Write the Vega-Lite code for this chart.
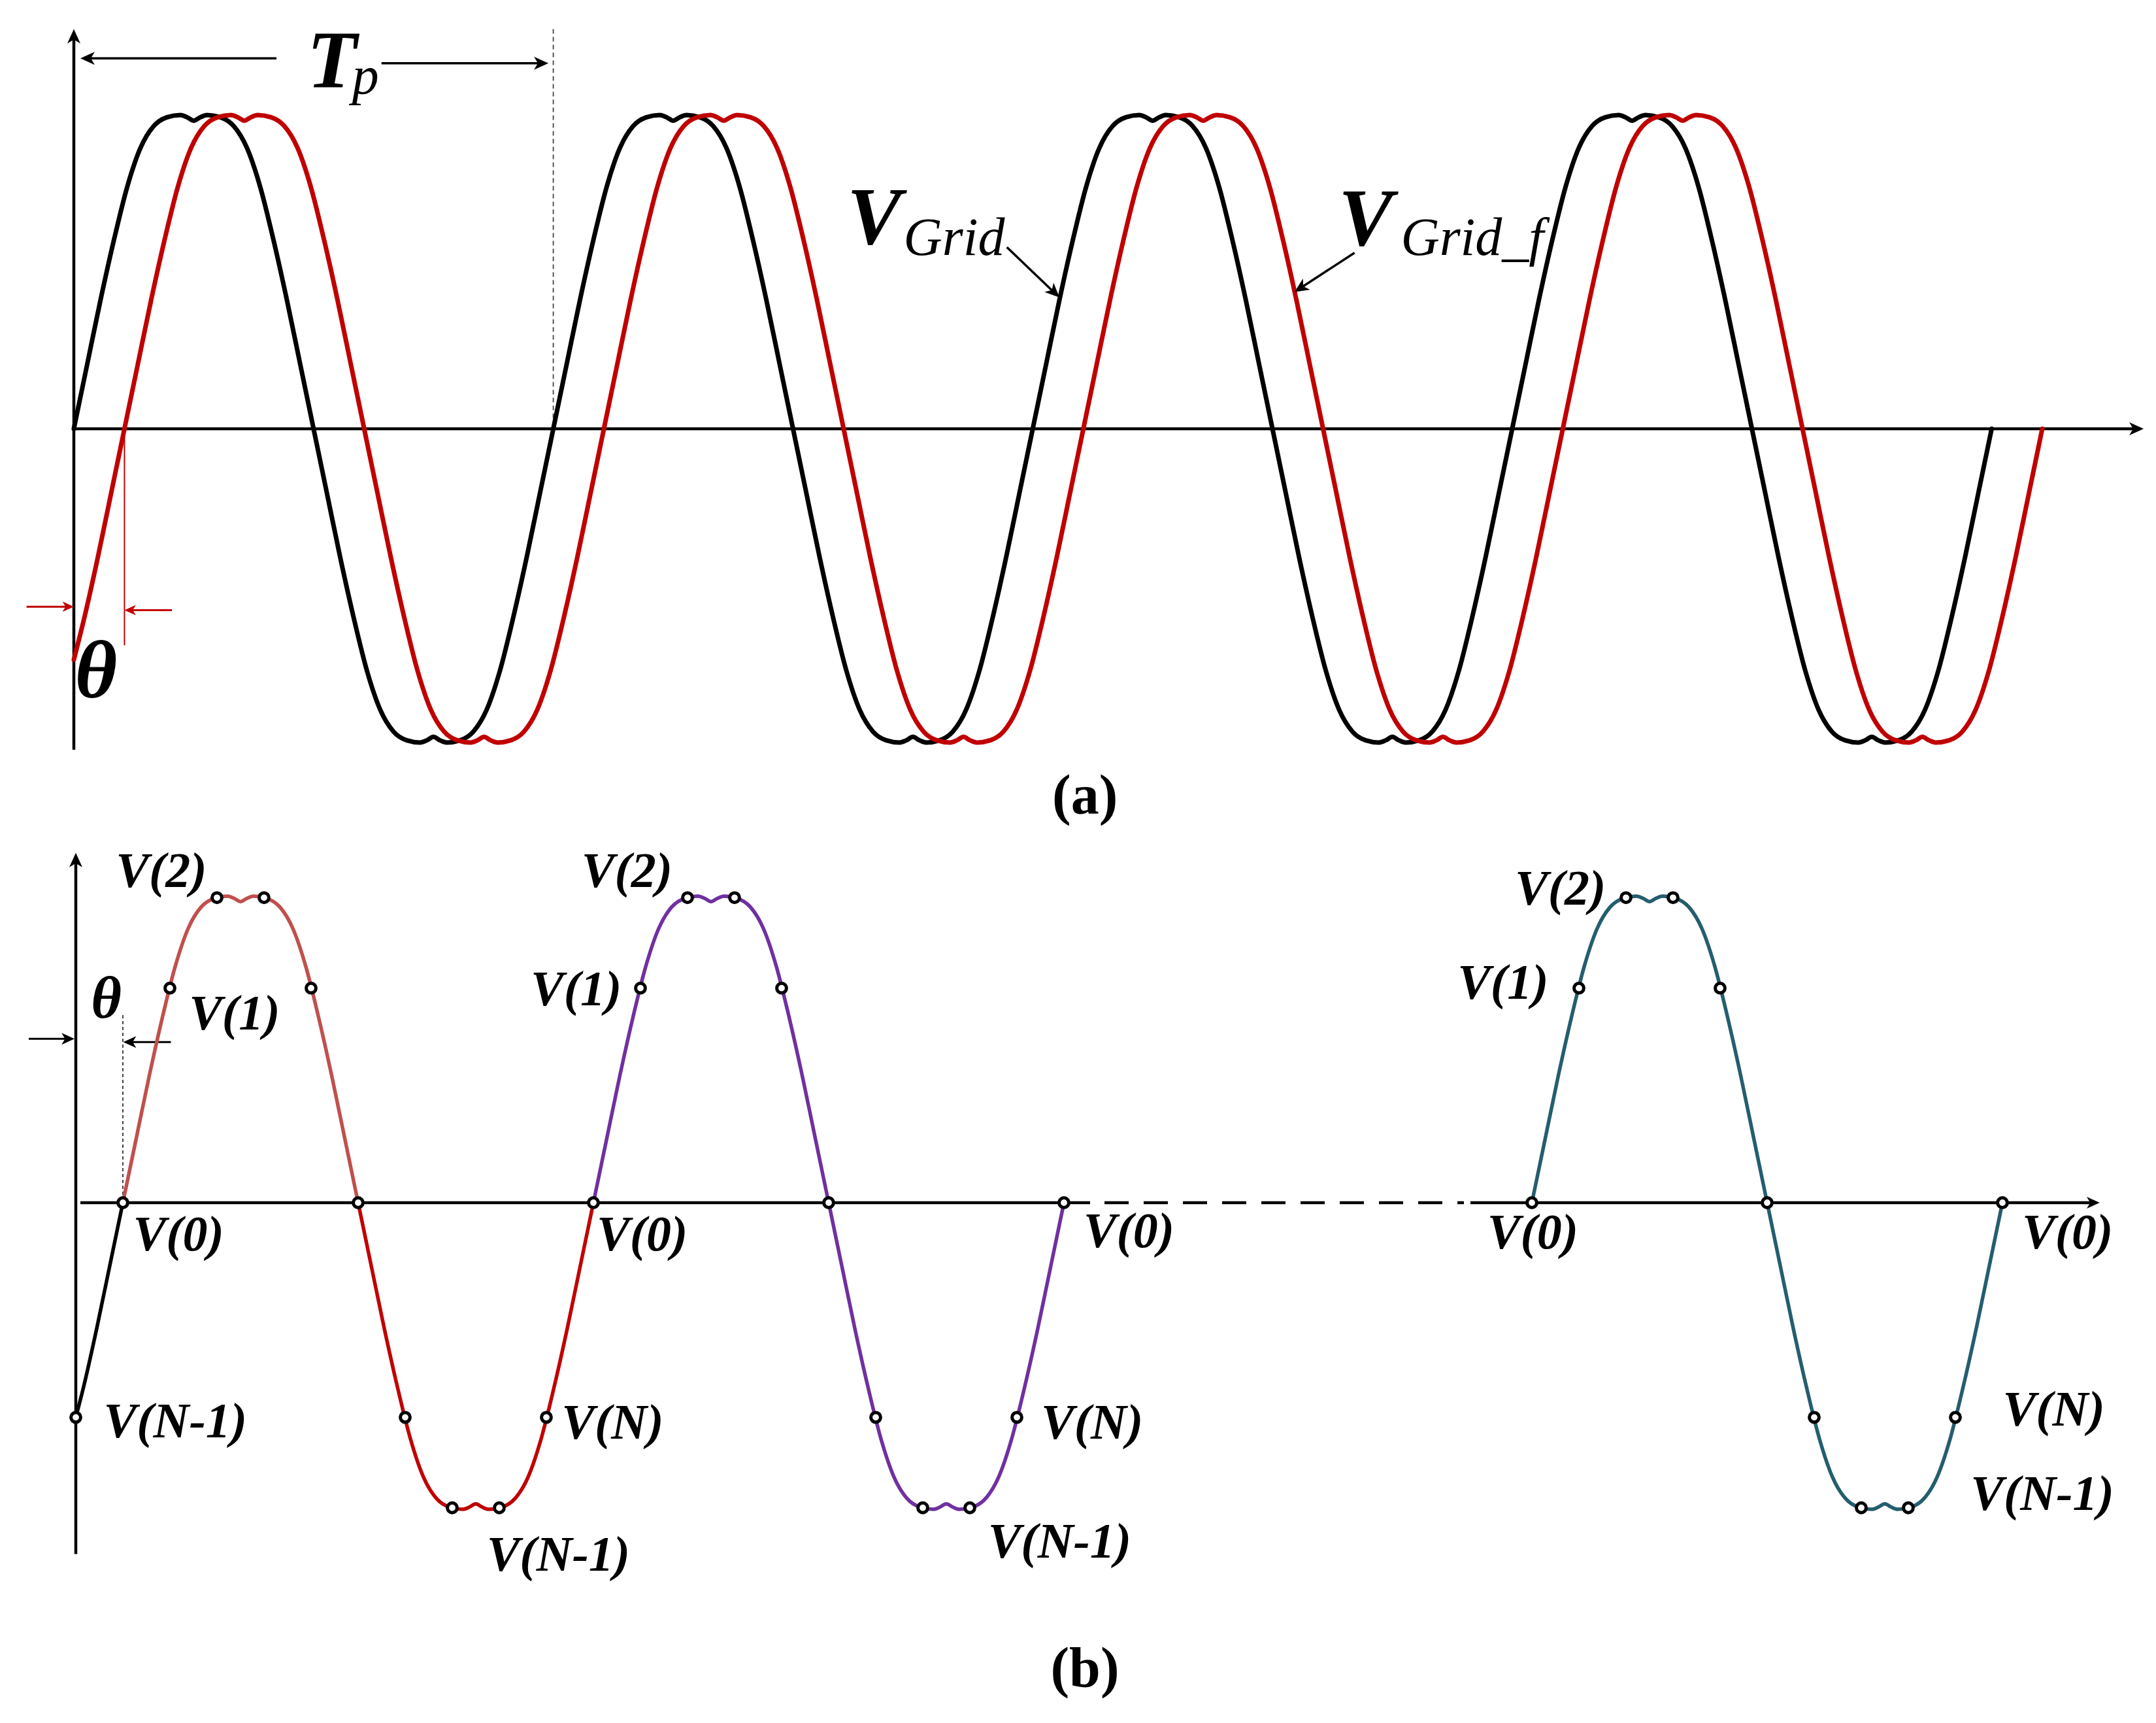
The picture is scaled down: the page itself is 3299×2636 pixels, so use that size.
{
"$schema":"https://vega.github.io/schema/vega-lite/v6.json",
"padding":0,
"spacing":0,
"background":"white",
"config":{"view":{"stroke":null},"concat":{"spacing":0}},
"resolve":{"scale":{"color":"independent"}},
"datasets":{
"wa":[
{"s":"g","t":0,"v":0},{"s":"g","t":10,"v":0.205},{"s":"g","t":20,"v":0.41},{"s":"g","t":30,"v":0.6},{"s":"g","t":40,"v":0.77},{"s":"g","t":50,"v":0.895},{"s":"g","t":60,"v":0.965},{"s":"g","t":70,"v":0.993},{"s":"g","t":80,"v":1},{"s":"g","t":85,"v":0.993},{"s":"g","t":90,"v":0.982},{"s":"g","t":95,"v":0.993},{"s":"g","t":100,"v":1},{"s":"g","t":110,"v":0.993},{"s":"g","t":120,"v":0.965},{"s":"g","t":130,"v":0.895},{"s":"g","t":140,"v":0.77},{"s":"g","t":150,"v":0.6},{"s":"g","t":160,"v":0.41},{"s":"g","t":170,"v":0.205},
{"s":"g","t":180,"v":0},{"s":"g","t":190,"v":-0.205},{"s":"g","t":200,"v":-0.41},{"s":"g","t":210,"v":-0.6},{"s":"g","t":220,"v":-0.77},{"s":"g","t":230,"v":-0.895},{"s":"g","t":240,"v":-0.965},{"s":"g","t":250,"v":-0.993},{"s":"g","t":260,"v":-1},{"s":"g","t":265,"v":-0.993},{"s":"g","t":270,"v":-0.982},{"s":"g","t":275,"v":-0.993},{"s":"g","t":280,"v":-1},{"s":"g","t":290,"v":-0.993},{"s":"g","t":300,"v":-0.965},{"s":"g","t":310,"v":-0.895},{"s":"g","t":320,"v":-0.77},{"s":"g","t":330,"v":-0.6},{"s":"g","t":340,"v":-0.41},{"s":"g","t":350,"v":-0.205},
{"s":"g","t":360,"v":0},{"s":"g","t":370,"v":0.205},{"s":"g","t":380,"v":0.41},{"s":"g","t":390,"v":0.6},{"s":"g","t":400,"v":0.77},{"s":"g","t":410,"v":0.895},{"s":"g","t":420,"v":0.965},{"s":"g","t":430,"v":0.993},{"s":"g","t":440,"v":1},{"s":"g","t":445,"v":0.993},{"s":"g","t":450,"v":0.982},{"s":"g","t":455,"v":0.993},{"s":"g","t":460,"v":1},{"s":"g","t":470,"v":0.993},{"s":"g","t":480,"v":0.965},{"s":"g","t":490,"v":0.895},{"s":"g","t":500,"v":0.77},{"s":"g","t":510,"v":0.6},{"s":"g","t":520,"v":0.41},{"s":"g","t":530,"v":0.205},
{"s":"g","t":540,"v":0},{"s":"g","t":550,"v":-0.205},{"s":"g","t":560,"v":-0.41},{"s":"g","t":570,"v":-0.6},{"s":"g","t":580,"v":-0.77},{"s":"g","t":590,"v":-0.895},{"s":"g","t":600,"v":-0.965},{"s":"g","t":610,"v":-0.993},{"s":"g","t":620,"v":-1},{"s":"g","t":625,"v":-0.993},{"s":"g","t":630,"v":-0.982},{"s":"g","t":635,"v":-0.993},{"s":"g","t":640,"v":-1},{"s":"g","t":650,"v":-0.993},{"s":"g","t":660,"v":-0.965},{"s":"g","t":670,"v":-0.895},{"s":"g","t":680,"v":-0.77},{"s":"g","t":690,"v":-0.6},{"s":"g","t":700,"v":-0.41},{"s":"g","t":710,"v":-0.205},
{"s":"g","t":720,"v":0},{"s":"g","t":730,"v":0.205},{"s":"g","t":740,"v":0.41},{"s":"g","t":750,"v":0.6},{"s":"g","t":760,"v":0.77},{"s":"g","t":770,"v":0.895},{"s":"g","t":780,"v":0.965},{"s":"g","t":790,"v":0.993},{"s":"g","t":800,"v":1},{"s":"g","t":805,"v":0.993},{"s":"g","t":810,"v":0.982},{"s":"g","t":815,"v":0.993},{"s":"g","t":820,"v":1},{"s":"g","t":830,"v":0.993},{"s":"g","t":840,"v":0.965},{"s":"g","t":850,"v":0.895},{"s":"g","t":860,"v":0.77},{"s":"g","t":870,"v":0.6},{"s":"g","t":880,"v":0.41},{"s":"g","t":890,"v":0.205},
{"s":"g","t":900,"v":0},{"s":"g","t":910,"v":-0.205},{"s":"g","t":920,"v":-0.41},{"s":"g","t":930,"v":-0.6},{"s":"g","t":940,"v":-0.77},{"s":"g","t":950,"v":-0.895},{"s":"g","t":960,"v":-0.965},{"s":"g","t":970,"v":-0.993},{"s":"g","t":980,"v":-1},{"s":"g","t":985,"v":-0.993},{"s":"g","t":990,"v":-0.982},{"s":"g","t":995,"v":-0.993},{"s":"g","t":1000,"v":-1},{"s":"g","t":1010,"v":-0.993},{"s":"g","t":1020,"v":-0.965},{"s":"g","t":1030,"v":-0.895},{"s":"g","t":1040,"v":-0.77},{"s":"g","t":1050,"v":-0.6},{"s":"g","t":1060,"v":-0.41},{"s":"g","t":1070,"v":-0.205},
{"s":"g","t":1080,"v":0},{"s":"g","t":1090,"v":0.205},{"s":"g","t":1100,"v":0.41},{"s":"g","t":1110,"v":0.6},{"s":"g","t":1120,"v":0.77},{"s":"g","t":1130,"v":0.895},{"s":"g","t":1140,"v":0.965},{"s":"g","t":1150,"v":0.993},{"s":"g","t":1160,"v":1},{"s":"g","t":1165,"v":0.993},{"s":"g","t":1170,"v":0.982},{"s":"g","t":1175,"v":0.993},{"s":"g","t":1180,"v":1},{"s":"g","t":1190,"v":0.993},{"s":"g","t":1200,"v":0.965},{"s":"g","t":1210,"v":0.895},{"s":"g","t":1220,"v":0.77},{"s":"g","t":1230,"v":0.6},{"s":"g","t":1240,"v":0.41},{"s":"g","t":1250,"v":0.205},
{"s":"g","t":1260,"v":0},{"s":"g","t":1270,"v":-0.205},{"s":"g","t":1280,"v":-0.41},{"s":"g","t":1290,"v":-0.6},{"s":"g","t":1300,"v":-0.77},{"s":"g","t":1310,"v":-0.895},{"s":"g","t":1320,"v":-0.965},{"s":"g","t":1330,"v":-0.993},{"s":"g","t":1340,"v":-1},{"s":"g","t":1345,"v":-0.993},{"s":"g","t":1350,"v":-0.982},{"s":"g","t":1355,"v":-0.993},{"s":"g","t":1360,"v":-1},{"s":"g","t":1370,"v":-0.993},{"s":"g","t":1380,"v":-0.965},{"s":"g","t":1390,"v":-0.895},{"s":"g","t":1400,"v":-0.77},{"s":"g","t":1410,"v":-0.6},{"s":"g","t":1420,"v":-0.41},{"s":"g","t":1430,"v":-0.205},
{"s":"g","t":1440,"v":0},
{"s":"f","t":0,"v":-0.736},{"s":"f","t":8,"v":-0.6},{"s":"f","t":18,"v":-0.41},{"s":"f","t":28,"v":-0.205},
{"s":"f","t":38,"v":0},{"s":"f","t":48,"v":0.205},{"s":"f","t":58,"v":0.41},{"s":"f","t":68,"v":0.6},{"s":"f","t":78,"v":0.77},{"s":"f","t":88,"v":0.895},{"s":"f","t":98,"v":0.965},{"s":"f","t":108,"v":0.993},{"s":"f","t":118,"v":1},{"s":"f","t":123,"v":0.993},{"s":"f","t":128,"v":0.982},{"s":"f","t":133,"v":0.993},{"s":"f","t":138,"v":1},{"s":"f","t":148,"v":0.993},{"s":"f","t":158,"v":0.965},{"s":"f","t":168,"v":0.895},{"s":"f","t":178,"v":0.77},{"s":"f","t":188,"v":0.6},{"s":"f","t":198,"v":0.41},{"s":"f","t":208,"v":0.205},
{"s":"f","t":218,"v":0},{"s":"f","t":228,"v":-0.205},{"s":"f","t":238,"v":-0.41},{"s":"f","t":248,"v":-0.6},{"s":"f","t":258,"v":-0.77},{"s":"f","t":268,"v":-0.895},{"s":"f","t":278,"v":-0.965},{"s":"f","t":288,"v":-0.993},{"s":"f","t":298,"v":-1},{"s":"f","t":303,"v":-0.993},{"s":"f","t":308,"v":-0.982},{"s":"f","t":313,"v":-0.993},{"s":"f","t":318,"v":-1},{"s":"f","t":328,"v":-0.993},{"s":"f","t":338,"v":-0.965},{"s":"f","t":348,"v":-0.895},{"s":"f","t":358,"v":-0.77},{"s":"f","t":368,"v":-0.6},{"s":"f","t":378,"v":-0.41},{"s":"f","t":388,"v":-0.205},
{"s":"f","t":398,"v":0},{"s":"f","t":408,"v":0.205},{"s":"f","t":418,"v":0.41},{"s":"f","t":428,"v":0.6},{"s":"f","t":438,"v":0.77},{"s":"f","t":448,"v":0.895},{"s":"f","t":458,"v":0.965},{"s":"f","t":468,"v":0.993},{"s":"f","t":478,"v":1},{"s":"f","t":483,"v":0.993},{"s":"f","t":488,"v":0.982},{"s":"f","t":493,"v":0.993},{"s":"f","t":498,"v":1},{"s":"f","t":508,"v":0.993},{"s":"f","t":518,"v":0.965},{"s":"f","t":528,"v":0.895},{"s":"f","t":538,"v":0.77},{"s":"f","t":548,"v":0.6},{"s":"f","t":558,"v":0.41},{"s":"f","t":568,"v":0.205},
{"s":"f","t":578,"v":0},{"s":"f","t":588,"v":-0.205},{"s":"f","t":598,"v":-0.41},{"s":"f","t":608,"v":-0.6},{"s":"f","t":618,"v":-0.77},{"s":"f","t":628,"v":-0.895},{"s":"f","t":638,"v":-0.965},{"s":"f","t":648,"v":-0.993},{"s":"f","t":658,"v":-1},{"s":"f","t":663,"v":-0.993},{"s":"f","t":668,"v":-0.982},{"s":"f","t":673,"v":-0.993},{"s":"f","t":678,"v":-1},{"s":"f","t":688,"v":-0.993},{"s":"f","t":698,"v":-0.965},{"s":"f","t":708,"v":-0.895},{"s":"f","t":718,"v":-0.77},{"s":"f","t":728,"v":-0.6},{"s":"f","t":738,"v":-0.41},{"s":"f","t":748,"v":-0.205},
{"s":"f","t":758,"v":0},{"s":"f","t":768,"v":0.205},{"s":"f","t":778,"v":0.41},{"s":"f","t":788,"v":0.6},{"s":"f","t":798,"v":0.77},{"s":"f","t":808,"v":0.895},{"s":"f","t":818,"v":0.965},{"s":"f","t":828,"v":0.993},{"s":"f","t":838,"v":1},{"s":"f","t":843,"v":0.993},{"s":"f","t":848,"v":0.982},{"s":"f","t":853,"v":0.993},{"s":"f","t":858,"v":1},{"s":"f","t":868,"v":0.993},{"s":"f","t":878,"v":0.965},{"s":"f","t":888,"v":0.895},{"s":"f","t":898,"v":0.77},{"s":"f","t":908,"v":0.6},{"s":"f","t":918,"v":0.41},{"s":"f","t":928,"v":0.205},
{"s":"f","t":938,"v":0},{"s":"f","t":948,"v":-0.205},{"s":"f","t":958,"v":-0.41},{"s":"f","t":968,"v":-0.6},{"s":"f","t":978,"v":-0.77},{"s":"f","t":988,"v":-0.895},{"s":"f","t":998,"v":-0.965},{"s":"f","t":1008,"v":-0.993},{"s":"f","t":1018,"v":-1},{"s":"f","t":1023,"v":-0.993},{"s":"f","t":1028,"v":-0.982},{"s":"f","t":1033,"v":-0.993},{"s":"f","t":1038,"v":-1},{"s":"f","t":1048,"v":-0.993},{"s":"f","t":1058,"v":-0.965},{"s":"f","t":1068,"v":-0.895},{"s":"f","t":1078,"v":-0.77},{"s":"f","t":1088,"v":-0.6},{"s":"f","t":1098,"v":-0.41},{"s":"f","t":1108,"v":-0.205},
{"s":"f","t":1118,"v":0},{"s":"f","t":1128,"v":0.205},{"s":"f","t":1138,"v":0.41},{"s":"f","t":1148,"v":0.6},{"s":"f","t":1158,"v":0.77},{"s":"f","t":1168,"v":0.895},{"s":"f","t":1178,"v":0.965},{"s":"f","t":1188,"v":0.993},{"s":"f","t":1198,"v":1},{"s":"f","t":1203,"v":0.993},{"s":"f","t":1208,"v":0.982},{"s":"f","t":1213,"v":0.993},{"s":"f","t":1218,"v":1},{"s":"f","t":1228,"v":0.993},{"s":"f","t":1238,"v":0.965},{"s":"f","t":1248,"v":0.895},{"s":"f","t":1258,"v":0.77},{"s":"f","t":1268,"v":0.6},{"s":"f","t":1278,"v":0.41},{"s":"f","t":1288,"v":0.205},
{"s":"f","t":1298,"v":0},{"s":"f","t":1308,"v":-0.205},{"s":"f","t":1318,"v":-0.41},{"s":"f","t":1328,"v":-0.6},{"s":"f","t":1338,"v":-0.77},{"s":"f","t":1348,"v":-0.895},{"s":"f","t":1358,"v":-0.965},{"s":"f","t":1368,"v":-0.993},{"s":"f","t":1378,"v":-1},{"s":"f","t":1383,"v":-0.993},{"s":"f","t":1388,"v":-0.982},{"s":"f","t":1393,"v":-0.993},{"s":"f","t":1398,"v":-1},{"s":"f","t":1408,"v":-0.993},{"s":"f","t":1418,"v":-0.965},{"s":"f","t":1428,"v":-0.895},{"s":"f","t":1438,"v":-0.77},{"s":"f","t":1448,"v":-0.6},{"s":"f","t":1458,"v":-0.41},{"s":"f","t":1468,"v":-0.205},
{"s":"f","t":1478,"v":0}
],
"wb":[
{"s":"k","t":0,"v":-0.7},{"s":"k","t":6,"v":-0.6},{"s":"k","t":16,"v":-0.41},{"s":"k","t":26,"v":-0.205},{"s":"k","t":36,"v":0},
{"s":"a","t":36,"v":0},{"s":"a","t":46,"v":0.205},{"s":"a","t":56,"v":0.41},{"s":"a","t":66,"v":0.6},{"s":"a","t":76,"v":0.77},{"s":"a","t":86,"v":0.895},{"s":"a","t":96,"v":0.965},{"s":"a","t":106,"v":0.993},{"s":"a","t":116,"v":1},{"s":"a","t":121,"v":0.993},{"s":"a","t":126,"v":0.982},{"s":"a","t":131,"v":0.993},{"s":"a","t":136,"v":1},{"s":"a","t":146,"v":0.993},{"s":"a","t":156,"v":0.965},{"s":"a","t":166,"v":0.895},{"s":"a","t":176,"v":0.77},{"s":"a","t":186,"v":0.6},{"s":"a","t":196,"v":0.41},{"s":"a","t":206,"v":0.205},{"s":"a","t":216,"v":0},
{"s":"r","t":216,"v":0},{"s":"r","t":226,"v":-0.205},{"s":"r","t":236,"v":-0.41},{"s":"r","t":246,"v":-0.6},{"s":"r","t":256,"v":-0.77},{"s":"r","t":266,"v":-0.895},{"s":"r","t":276,"v":-0.965},{"s":"r","t":286,"v":-0.993},{"s":"r","t":296,"v":-1},{"s":"r","t":301,"v":-0.993},{"s":"r","t":306,"v":-0.982},{"s":"r","t":311,"v":-0.993},{"s":"r","t":316,"v":-1},{"s":"r","t":326,"v":-0.993},{"s":"r","t":336,"v":-0.965},{"s":"r","t":346,"v":-0.895},{"s":"r","t":356,"v":-0.77},{"s":"r","t":366,"v":-0.6},{"s":"r","t":376,"v":-0.41},{"s":"r","t":386,"v":-0.205},{"s":"r","t":396,"v":0},
{"s":"p","t":396,"v":0},{"s":"p","t":406,"v":0.205},{"s":"p","t":416,"v":0.41},{"s":"p","t":426,"v":0.6},{"s":"p","t":436,"v":0.77},{"s":"p","t":446,"v":0.895},{"s":"p","t":456,"v":0.965},{"s":"p","t":466,"v":0.993},{"s":"p","t":476,"v":1},{"s":"p","t":481,"v":0.993},{"s":"p","t":486,"v":0.982},{"s":"p","t":491,"v":0.993},{"s":"p","t":496,"v":1},{"s":"p","t":506,"v":0.993},{"s":"p","t":516,"v":0.965},{"s":"p","t":526,"v":0.895},{"s":"p","t":536,"v":0.77},{"s":"p","t":546,"v":0.6},{"s":"p","t":556,"v":0.41},{"s":"p","t":566,"v":0.205},{"s":"p","t":576,"v":0},
{"s":"p","t":586,"v":-0.205},{"s":"p","t":596,"v":-0.41},{"s":"p","t":606,"v":-0.6},{"s":"p","t":616,"v":-0.77},{"s":"p","t":626,"v":-0.895},{"s":"p","t":636,"v":-0.965},{"s":"p","t":646,"v":-0.993},{"s":"p","t":656,"v":-1},{"s":"p","t":661,"v":-0.993},{"s":"p","t":666,"v":-0.982},{"s":"p","t":671,"v":-0.993},{"s":"p","t":676,"v":-1},{"s":"p","t":686,"v":-0.993},{"s":"p","t":696,"v":-0.965},{"s":"p","t":706,"v":-0.895},{"s":"p","t":716,"v":-0.77},{"s":"p","t":726,"v":-0.6},{"s":"p","t":736,"v":-0.41},{"s":"p","t":746,"v":-0.205},{"s":"p","t":756,"v":0},
{"s":"c","t":1114,"v":0},{"s":"c","t":1124,"v":0.205},{"s":"c","t":1134,"v":0.41},{"s":"c","t":1144,"v":0.6},{"s":"c","t":1154,"v":0.77},{"s":"c","t":1164,"v":0.895},{"s":"c","t":1174,"v":0.965},{"s":"c","t":1184,"v":0.993},{"s":"c","t":1194,"v":1},{"s":"c","t":1199,"v":0.993},{"s":"c","t":1204,"v":0.982},{"s":"c","t":1209,"v":0.993},{"s":"c","t":1214,"v":1},{"s":"c","t":1224,"v":0.993},{"s":"c","t":1234,"v":0.965},{"s":"c","t":1244,"v":0.895},{"s":"c","t":1254,"v":0.77},{"s":"c","t":1264,"v":0.6},{"s":"c","t":1274,"v":0.41},{"s":"c","t":1284,"v":0.205},{"s":"c","t":1294,"v":0},
{"s":"c","t":1304,"v":-0.205},{"s":"c","t":1314,"v":-0.41},{"s":"c","t":1324,"v":-0.6},{"s":"c","t":1334,"v":-0.77},{"s":"c","t":1344,"v":-0.895},{"s":"c","t":1354,"v":-0.965},{"s":"c","t":1364,"v":-0.993},{"s":"c","t":1374,"v":-1},{"s":"c","t":1379,"v":-0.993},{"s":"c","t":1384,"v":-0.982},{"s":"c","t":1389,"v":-0.993},{"s":"c","t":1394,"v":-1},{"s":"c","t":1404,"v":-0.993},{"s":"c","t":1414,"v":-0.965},{"s":"c","t":1424,"v":-0.895},{"s":"c","t":1434,"v":-0.77},{"s":"c","t":1444,"v":-0.6},{"s":"c","t":1454,"v":-0.41},{"s":"c","t":1464,"v":-0.205},{"s":"c","t":1474,"v":0}
],
"mb":[
{"t":0,"v":-0.7},{"t":36,"v":0},{"t":72,"v":0.7},{"t":108,"v":0.995},{"t":144,"v":0.995},{"t":180,"v":0.7},{"t":216,"v":0},{"t":252,"v":-0.7},{"t":288,"v":-0.995},{"t":324,"v":-0.995},{"t":360,"v":-0.7},{"t":396,"v":0},{"t":432,"v":0.7},{"t":468,"v":0.995},{"t":504,"v":0.995},{"t":540,"v":0.7},{"t":576,"v":0},{"t":612,"v":-0.7},{"t":648,"v":-0.995},{"t":684,"v":-0.995},{"t":720,"v":-0.7},{"t":756,"v":0},
{"t":1114,"v":0},{"t":1150,"v":0.7},{"t":1186,"v":0.995},{"t":1222,"v":0.995},{"t":1258,"v":0.7},{"t":1294,"v":0},{"t":1330,"v":-0.7},{"t":1366,"v":-0.995},{"t":1402,"v":-0.995},{"t":1438,"v":-0.7},{"t":1474,"v":0}
]
},
"vconcat":[
{
"width":3299,"height":1280,
"encoding":{
"x":{"field":"t","type":"quantitative","scale":{"domain":[-55.45,1563.4],"nice":false,"zero":false},"axis":null},
"y":{"field":"v","type":"quantitative","scale":{"domain":[-1.3,1.3667],"nice":false,"zero":false},"axis":null}
},
"layer":[
{"data":{"values":[{"t":0,"v":-1.023,"t2":0,"v2":1.253},{"t":0,"v":0,"t2":1549,"v2":0}]},"mark":{"type":"rule","strokeWidth":4.5,"color":"#000000"},"encoding":{"x2":{"field":"t2"},"y2":{"field":"v2"}}},
{"data":{"values":[{"t":360,"v":1.274,"t2":360,"v2":0}]},"mark":{"type":"rule","strokeWidth":2,"color":"#555555","strokeDash":[7,5]},"encoding":{"x2":{"field":"t2"},"y2":{"field":"v2"}}},
{"data":{"values":[{"t":9,"v":1.181,"t2":152.1,"v2":1.181},{"t":231,"v":1.165,"t2":351.5,"v2":1.165},{"t":700.6,"v":0.5785,"t2":736.5,"v2":0.433},{"t":961.6,"v":0.561,"t2":920.6,"v2":0.4474}]},"mark":{"type":"rule","strokeWidth":3.5,"color":"#000000"},"encoding":{"x2":{"field":"t2"},"y2":{"field":"v2"}}},
{"data":{"values":[{"t":-35.5,"v":-0.567,"t2":-4,"v2":-0.567},{"t":73.6,"v":-0.578,"t2":42,"v2":-0.578}]},"mark":{"type":"rule","strokeWidth":3,"color":"#C00000"},"encoding":{"x2":{"field":"t2"},"y2":{"field":"v2"}}},
{"data":{"values":[{"t":38,"v":0,"t2":38,"v2":-0.69}]},"mark":{"type":"rule","strokeWidth":2,"color":"#C00000"},"encoding":{"x2":{"field":"t2"},"y2":{"field":"v2"}}},
{"data":{"name":"wa"},"mark":{"type":"line","strokeWidth":7,"interpolate":"monotone","strokeCap":"round","strokeJoin":"round"},"encoding":{"color":{"field":"s","type":"nominal","scale":{"domain":["g","f"],"range":["#000000","#C00000"]},"legend":null}}},
{"data":{"values":[{"t":0,"v":1.274}]},"mark":{"type":"point","shape":"M0,0L0.5,1.1L0,0.8L-0.5,1.1Z","size":1600,"filled":true,"color":"#000000","opacity":1,"strokeWidth":0}},
{"data":{"values":[{"t":1554.1,"v":0},{"t":356.3,"v":1.165}]},"mark":{"type":"point","shape":"M0,0L0.5,1.1L0,0.8L-0.5,1.1Z","size":1600,"angle":90,"filled":true,"color":"#000000","opacity":1,"strokeWidth":0}},
{"data":{"values":[{"t":4.9,"v":1.181}]},"mark":{"type":"point","shape":"M0,0L0.5,1.1L0,0.8L-0.5,1.1Z","size":1600,"angle":270,"filled":true,"color":"#000000","opacity":1,"strokeWidth":0}},
{"data":{"values":[{"t":740,"v":0.419}]},"mark":{"type":"point","shape":"M0,0L0.5,1.1L0,0.8L-0.5,1.1Z","size":1600,"angle":134,"filled":true,"color":"#000000","opacity":1,"strokeWidth":0}},
{"data":{"values":[{"t":916.5,"v":0.436}]},"mark":{"type":"point","shape":"M0,0L0.5,1.1L0,0.8L-0.5,1.1Z","size":1600,"angle":237,"filled":true,"color":"#000000","opacity":1,"strokeWidth":0}},
{"data":{"values":[{"t":0,"v":-0.567}]},"mark":{"type":"point","shape":"M0,0L0.5,1.1L0,0.8L-0.5,1.1Z","size":1000,"angle":90,"filled":true,"color":"#C00000","opacity":1,"strokeWidth":0}},
{"data":{"values":[{"t":38,"v":-0.578}]},"mark":{"type":"point","shape":"M0,0L0.5,1.1L0,0.8L-0.5,1.1Z","size":1000,"angle":270,"filled":true,"color":"#C00000","opacity":1,"strokeWidth":0}},
{"data":{"values":[{"t":193.8,"v":1.0875,"txt":"T"},{"t":16.7,"v":-0.856,"txt":"θ"},{"t":601,"v":0.589,"txt":"V"},{"t":970,"v":0.585,"txt":"V"}]},"mark":{"type":"text","font":"Liberation Serif","fontSize":125,"fontStyle":"italic","fontWeight":"bold","align":"center","baseline":"alphabetic","color":"#000000"},"encoding":{"text":{"field":"txt"}}},
{"data":{"values":[{"t":219,"v":1.069,"txt":"p"},{"t":661,"v":0.554,"txt":"Grid"},{"t":1050,"v":0.554,"txt":"Grid_f"}]},"mark":{"type":"text","font":"Liberation Serif","fontSize":82,"fontStyle":"italic","fontWeight":"normal","align":"center","baseline":"alphabetic","color":"#000000"},"encoding":{"text":{"field":"txt"}}},
{"data":{"values":[{"t":759.2,"v":-1.227,"txt":"(a)"}]},"mark":{"type":"text","font":"Liberation Serif","fontSize":86,"fontWeight":"bold","align":"center","baseline":"alphabetic","color":"#000000"},"encoding":{"text":{"field":"txt"}}}
]
},
{
"width":3299,"height":1356,
"encoding":{
"x":{"field":"t","type":"quantitative","scale":{"domain":[-58,1591.5],"nice":false,"zero":false},"axis":null},
"y":{"field":"v","type":"quantitative","scale":{"domain":[-1.697,1.194],"nice":false,"zero":false},"axis":null}
},
"layer":[
{"data":{"values":[{"t":0,"v":-1.146,"t2":0,"v2":1.12},{"t":3.5,"v":0,"t2":776,"v2":0},{"t":1067,"v":0,"t2":1543,"v2":0}]},"mark":{"type":"rule","strokeWidth":4.5,"color":"#000000"},"encoding":{"x2":{"field":"t2"},"y2":{"field":"v2"}}},
{"data":{"values":[{"t":787,"v":0,"t2":1062,"v2":0}]},"mark":{"type":"rule","strokeWidth":4.5,"color":"#000000","strokeDash":[37,23]},"encoding":{"x2":{"field":"t2"},"y2":{"field":"v2"}}},
{"data":{"values":[{"t":36,"v":0.612,"t2":36,"v2":0}]},"mark":{"type":"rule","strokeWidth":2,"color":"#444444","strokeDash":[5,4]},"encoding":{"x2":{"field":"t2"},"y2":{"field":"v2"}}},
{"data":{"values":[{"t":-36,"v":0.5345,"t2":-6,"v2":0.5345},{"t":72.7,"v":0.524,"t2":41.5,"v2":0.524}]},"mark":{"type":"rule","strokeWidth":3,"color":"#000000"},"encoding":{"x2":{"field":"t2"},"y2":{"field":"v2"}}},
{"data":{"values":[{"t":0,"v":1.141}]},"mark":{"type":"point","shape":"M0,0L0.5,1.1L0,0.8L-0.5,1.1Z","size":1600,"filled":true,"color":"#000000","opacity":1,"strokeWidth":0}},
{"data":{"values":[{"t":1548.4,"v":0},{"t":-1,"v":0.5345}]},"mark":{"type":"point","shape":"M0,0L0.5,1.1L0,0.8L-0.5,1.1Z","size":1300,"angle":90,"filled":true,"color":"#000000","opacity":1,"strokeWidth":0}},
{"data":{"values":[{"t":36.3,"v":0.524}]},"mark":{"type":"point","shape":"M0,0L0.5,1.1L0,0.8L-0.5,1.1Z","size":1300,"angle":270,"filled":true,"color":"#000000","opacity":1,"strokeWidth":0}},
{"data":{"name":"wb"},"mark":{"type":"line","strokeWidth":5.5,"interpolate":"monotone","strokeCap":"round","strokeJoin":"round"},"encoding":{"color":{"field":"s","type":"nominal","scale":{"domain":["k","a","r","p","c"],"range":["#000000","#C0504D","#C00000","#7030A0","#245E6E"]},"legend":null}}},
{"data":{"name":"mb"},"mark":{"type":"point","shape":"circle","size":220,"filled":true,"fill":"#ffffff","stroke":"#000000","strokeWidth":5,"opacity":1}},
{"data":{"values":[
{"t":65.45,"v":1.03,"txt":"V(2)"},{"t":121.4,"v":0.565,"txt":"V(1)"},{"t":78.6,"v":-0.156,"txt":"V(0)"},{"t":433.35,"v":-0.156,"txt":"V(0)"},{"t":805.7,"v":-0.145,"txt":"V(0)"},{"t":1114.75,"v":-0.15,"txt":"V(0)"},{"t":1523.85,"v":-0.15,"txt":"V(0)"},
{"t":76.15,"v":-0.765,"txt":"V(N-1)"},{"t":410.7,"v":-0.77,"txt":"V(N)"},{"t":369.2,"v":-1.2,"txt":"V(N-1)"},{"t":421.7,"v":1.03,"txt":"V(2)"},{"t":382.8,"v":0.645,"txt":"V(1)"},{"t":777.6,"v":-0.77,"txt":"V(N)"},{"t":752.7,"v":-1.158,"txt":"V(N-1)"},
{"t":1135.8,"v":0.972,"txt":"V(2)"},{"t":1091.9,"v":0.665,"txt":"V(1)"},{"t":1513.35,"v":-0.726,"txt":"V(N)"},{"t":1504.5,"v":-1.0025,"txt":"V(N-1)"}
]},"mark":{"type":"text","font":"Liberation Serif","fontSize":76,"fontStyle":"italic","fontWeight":"bold","align":"center","baseline":"alphabetic","color":"#000000"},"encoding":{"text":{"field":"txt"}}},
{"data":{"values":[{"t":23.3,"v":0.604,"txt":"θ"}]},"mark":{"type":"text","font":"Liberation Serif","fontSize":90,"fontStyle":"italic","fontWeight":"bold","align":"center","baseline":"alphabetic","color":"#000000"},"encoding":{"text":{"field":"txt"}}},
{"data":{"values":[{"t":772,"v":-1.578,"txt":"(b)"}]},"mark":{"type":"text","font":"Liberation Serif","fontSize":86,"fontWeight":"bold","align":"center","baseline":"alphabetic","color":"#000000"},"encoding":{"text":{"field":"txt"}}}
]
}
]
}
